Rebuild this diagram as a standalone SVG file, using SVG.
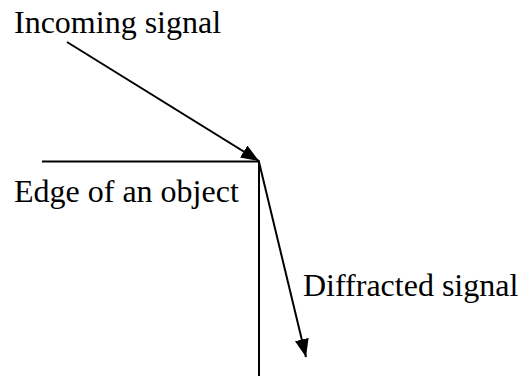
<svg xmlns="http://www.w3.org/2000/svg" width="520" height="376" viewBox="0 0 520 376">
  <style>
    .lbl { font-family: "Liberation Serif", "Times New Roman", serif; font-size: 32px; fill: #000; }
    .ln { stroke: #000; stroke-width: 2; fill: none; }
  </style>
  <defs>
    <marker id="head" viewBox="0 0 18 14" refX="18" refY="7" markerWidth="18" markerHeight="14" markerUnits="userSpaceOnUse" orient="auto">
      <path d="M0,0 L18,7 L0,14 Z" fill="#000"/>
    </marker>
  </defs>
  <rect width="520" height="376" fill="#fff"/>

  <!-- object edge (corner) -->
  <g id="edge">
    <path class="ln" d="M42,161.5 H259 V376"/>
  </g>

  <!-- signal arrows -->
  <g id="connectors">
    <line class="ln" x1="67" y1="42" x2="259" y2="161" marker-end="url(#head)"/>
    <line class="ln" x1="259" y1="162" x2="306" y2="357" marker-end="url(#head)"/>
  </g>

  <g id="incoming-label"><text class="lbl" x="14" y="33">Incoming signal</text></g>
  <g id="edge-label"><text class="lbl" x="14" y="202">Edge of an object</text></g>
  <g id="diffracted-label"><text class="lbl" x="303" y="296">Diffracted signal</text></g>
</svg>
